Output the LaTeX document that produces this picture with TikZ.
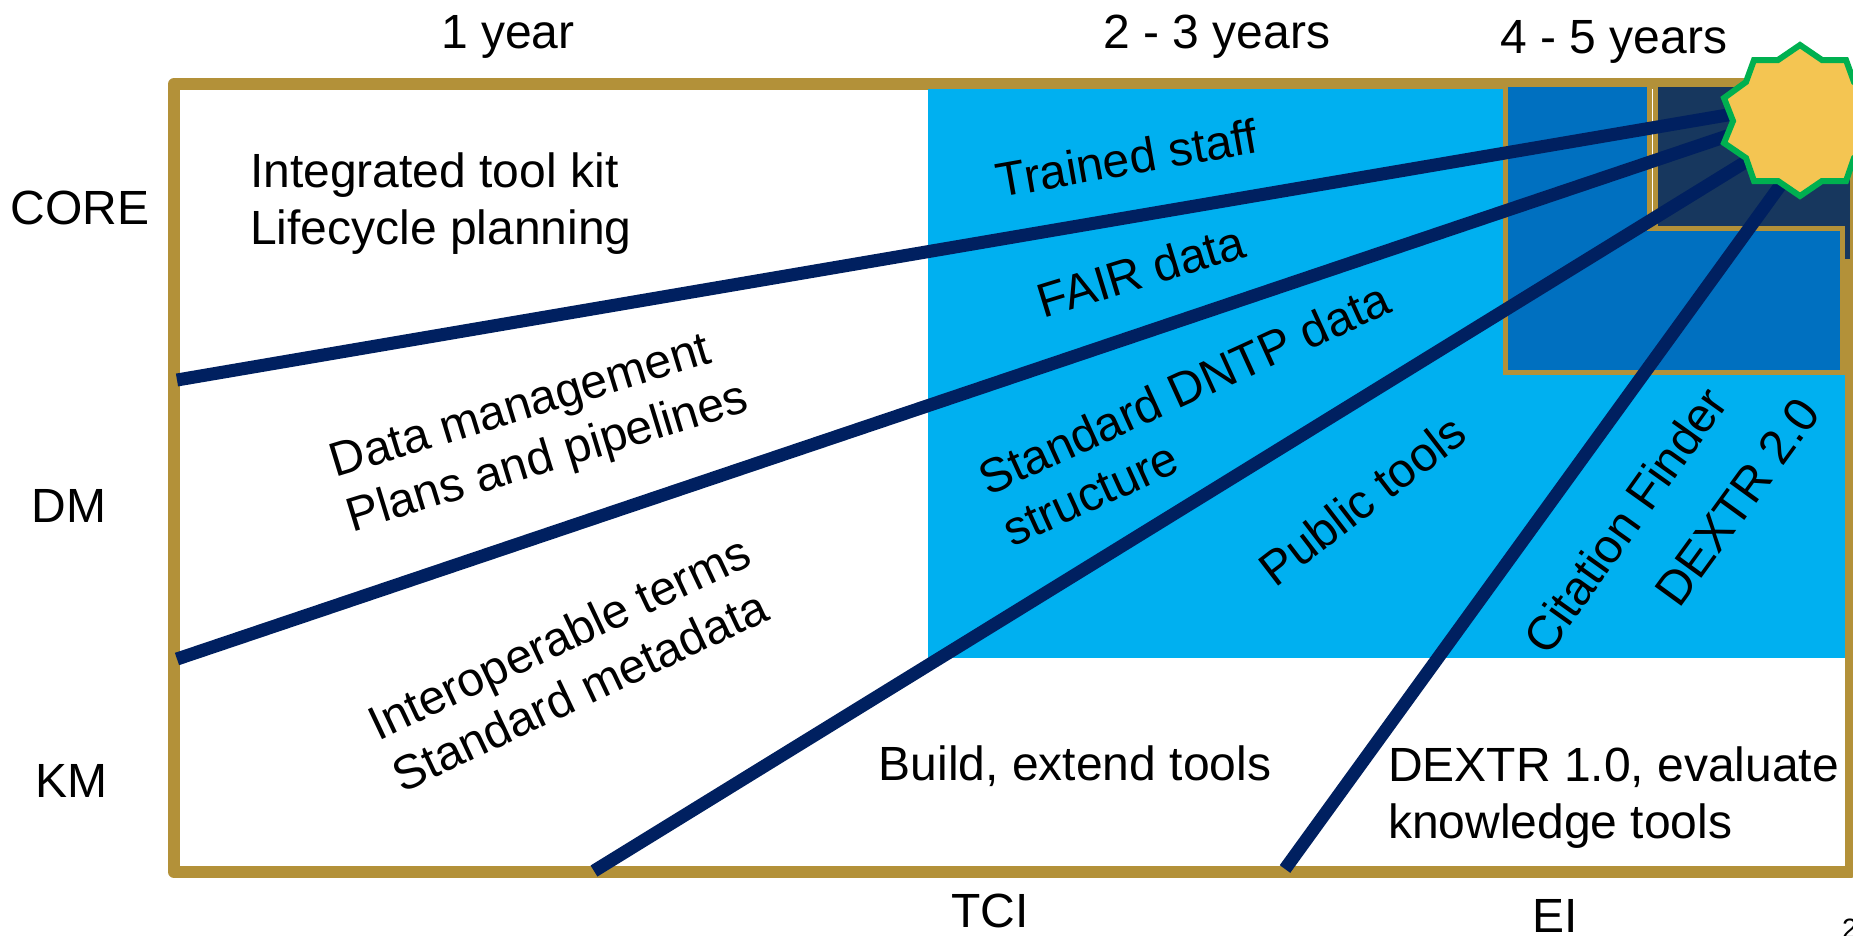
\documentclass[tikz,border=0pt]{standalone}
\usepackage{fontspec}
\setmainfont{Liberation Sans}
\definecolor{gold}{HTML}{B39139}
\definecolor{skyblue}{HTML}{00B0F0}
\definecolor{midblue}{HTML}{0070C0}
\definecolor{darkblue}{HTML}{17375E}
\definecolor{navy}{HTML}{002060}
\definecolor{sungreen}{HTML}{00B050}
\definecolor{sunfill}{HTML}{F4C552}
\tikzset{
  txt/.style={font=\fontsize{48}{57}\selectfont,inner sep=0pt,align=left},
  ray/.style={draw=navy,line width=13pt}
}
\begin{document}
\begin{tikzpicture}[x=1pt,y=-1pt]
  \useasboundingbox (0,0) rectangle (1853,935);
  \fill[white] (0,0) rectangle (1853,935);

  \draw[gold,line width=12pt,line join=round] (174,84) rectangle (1851,872);
  \fill[skyblue] (928,89) rectangle (1845,658);
  \draw[gold,line width=5pt,fill=midblue] (1505,87) -- (1505,372.5) -- (1842.5,372.5) -- (1842.5,87);
  \fill[darkblue] (1652,87) rectangle (1850,228);
  \fill[darkblue] (1844,228) rectangle (1850,259);
  \draw[gold,line width=11pt] (1652.5,87) -- (1652.5,231);
  \draw[white,line width=1pt] (1652.5,89) -- (1652.5,213);
  \draw[gold,line width=5pt] (1647,228.5) -- (1844,228.5);
  \draw[gold,line width=5pt] (1842,226) -- (1842,372);

  \coordinate (a1) at (177,380);
  \coordinate (b1) at (1745,112);
  \coordinate (a2) at (177,659);
  \coordinate (b2) at (1745,130);
  \coordinate (a3) at (594,871);
  \coordinate (b3) at (1760,153);
  \coordinate (a4) at (1285,869);
  \coordinate (b4) at (1790,172);
  \draw[ray] (a1) -- (b1);
  \draw[ray] (a2) -- (b2);
  \draw[ray] (a3) -- (b3);
  \draw[ray] (a4) -- (b4);

  \draw[sungreen,line width=6pt,fill=sunfill,miter limit=3] (1800,45) -- (1822,60) -- (1846,60) -- (1854,82) -- (1876,98)
    -- (1867,121) -- (1876,143) -- (1854,158) -- (1846,181) -- (1822,181) -- (1800,196) -- (1778,181)
    -- (1754,181) -- (1746,158) -- (1724,143) -- (1733,121) -- (1724,98) -- (1746,82) -- (1754,60) -- (1778,60) -- cycle;

  \node[txt] (y1) at (508,37) {1 year};
  \node[txt] (y2) at (1217,37) {2 - 3 years};
  \node[txt] (y3) at (1614,42) {4 - 5 years};
  \node[txt] (core) at (80,208) {CORE};
  \node[txt] (dm) at (69,506) {DM};
  \node[txt] (km) at (71,781) {KM};
  \node[txt] (tci) at (990,911) {TCI};
  \node[txt] (ei) at (1555,916) {EI};
  \node[txt,anchor=west] (kit) at (250,204) {Integrated tool kit\\Lifecycle planning};
  \node[txt,rotate=17] (plans) at (540,433) {Data management\\Plans and pipelines};
  \node[txt,rotate=25.3] (terms) at (571,663) {Interoperable terms\\Standard metadata};
  \node[txt,rotate=10] (staff) at (1127,158) {Trained staff};
  \node[txt,rotate=17] (fair) at (1141,271) {FAIR data};
  \node[txt,rotate=24.5] (dntp) at (1196,414) {Standard DNTP data\\structure};
  \node[txt,rotate=37.5] (pub) at (1362,500) {Public tools};
  \node[txt,rotate=54.5] (cite) at (1625,520) {Citation Finder};
  \node[txt,rotate=54] (dextr) at (1737,502) {DEXTR 2.0};
  \node[txt] (build) at (1075,766) {Build, extend tools};
  \node[txt,anchor=west] (eval) at (1388,798) {DEXTR 1.0, evaluate\\knowledge tools};
  \node[anchor=base west,inner sep=0pt,font=\fontsize{28}{30}\selectfont] (page) at (1842,938) {2};
\end{tikzpicture}
\end{document}
